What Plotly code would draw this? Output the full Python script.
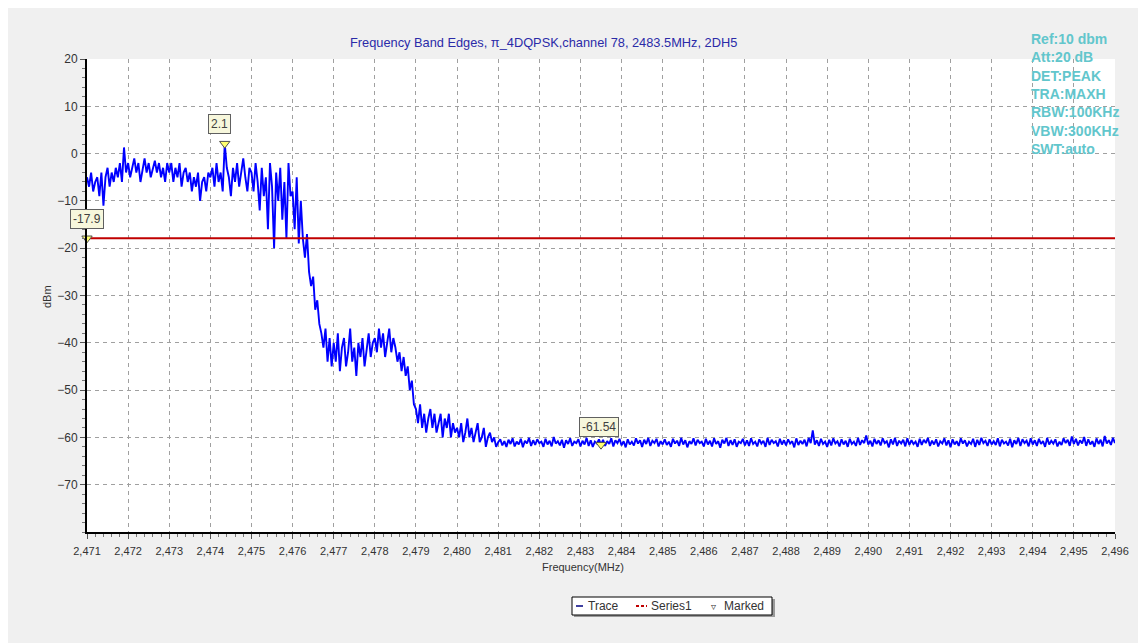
import numpy as np
import plotly.graph_objects as go

# ---------------- data ----------------
# sweep 2471.00 .. 2496.00 MHz, 0.05 MHz step (one row per MHz)
sweep_start, sweep_step = 2471.0, 0.05
start_vals = [-5]
rows = [
    # 2471.05 .. 2472.00
    [-7, -4, -8, -6, -5, -9, -4, -11, -5, -3, -7, -4, -6, -3, -5, -2, -6, 1.3, -4, -2],
    # 2472
    [-5, -3, -1, -4, -2, -6, -3, -1, -4, -2, -5, -3, -1.5, -4, -2, -5, -3, -6, -2, -4],
    # 2473
    [-2, -6, -3, -5, -2, -7, -4, -3, -6, -4, -8, -5, -7, -4, -10, -6, -5, -8, -4, -5],
    # 2474
    [-3, -7, -2, -6, -4, -8, 2.1, -3, -5, -9, -3, -6, -2, -7, -4, -1, -5, -8, -3, -4],
    # 2475
    [-8, -2, -6, -12, -3, -9, -5, -16, -2, -7, -20, -4, -10, -3, -14, -6, -18, -2, -9, -8],
    # 2476
    [-16, -5, -19, -10, -18, -22, -17, -25, -28, -26, -33, -31, -36, -38, -41, -37, -44, -39, -45, -40],
    # 2477
    [-44, -38, -46, -41, -39, -45, -42, -37, -44, -41, -47, -40, -43, -39, -45, -41, -38, -43, -40, -39],
    # 2478
    [-42, -37, -41, -38, -43, -40, -37, -42, -39, -41, -44, -42, -46, -43, -47, -45, -50, -48, -53, -54],
    # 2479
    [-57, -53, -58, -55, -59, -56, -54, -58, -55, -59, -57, -55, -60, -56, -58, -55, -60, -57, -59, -58],
    # 2480
    [-60, -57, -61, -59, -56, -60, -58, -61, -59, -57, -61, -60, -58, -62, -60, -59, -61, -60, -62, -61],
    # 2481
    [-60.4, -61.7, -60.8, -62.0, -60.5, -61.4, -60.2, -61.9, -60.9, -61.5, -60.3, -62.1, -60.7, -61.3, -60.1, -61.8, -60.6, -61.6, -60.4, -61.2],
    # 2482
    [-60.9, -62.0, -60.3, -61.5, -60.7, -61.9, -59.9, -61.3, -60.8, -61.7, -60.5, -62.2, -60.6, -61.4, -60.2, -61.8, -60.9, -61.2, -60.4, -61.9],
    # 2483
    [-60.7, -61.5, -60.1, -61.8, -60.6, -62.0, -60.9, -61.3, -60.4, -61.54, -60.5, -61.8, -60.8, -61.4, -60.2, -61.9, -60.6, -61.2, -60.3, -61.7],
    # 2484
    [-60.8, -62.1, -60.4, -61.5, -60.9, -61.7, -60.2, -61.3, -60.6, -62.0, -60.5, -61.4, -60.1, -61.8, -60.7, -61.2, -60.3, -61.9, -60.8, -61.5],
    # 2485
    [-60.4, -61.6, -60.9, -62.0, -60.3, -61.3, -60.7, -61.8, -60.1, -61.5, -60.6, -62.1, -60.8, -61.4, -60.2, -61.7, -60.5, -61.2, -60.9, -61.9],
    # 2486
    [-60.3, -61.5, -60.7, -61.9, -60.2, -61.4, -60.8, -62.2, -60.5, -61.3, -60.1, -61.8, -60.6, -61.6, -60.4, -62.0, -60.9, -61.2, -60.3, -61.7],
    # 2487
    [-60.6, -61.8, -60.2, -61.4, -60.9, -61.9, -60.4, -61.3, -60.7, -62.0, -60.1, -61.6, -60.5, -61.2, -60.8, -61.9, -60.3, -61.5, -60.6, -61.7],
    # 2488
    [-60.4, -61.3, -60.8, -62.1, -60.2, -61.6, -60.7, -61.4, -60.5, -61.9, -60.1, -61.2, -58.5, -61.5, -60.6, -61.8, -60.3, -61.4, -60.9, -62.0],
    # 2489
    [-60.5, -61.7, -60.2, -61.3, -60.8, -61.9, -60.4, -61.5, -60.7, -62.0, -60.3, -61.4, -60.9, -61.8, -60.1, -61.6, -60.6, -61.2, -59.6, -61.5],
    # 2490
    [-60.7, -61.9, -60.3, -61.4, -60.6, -61.7, -60.2, -61.2, -60.8, -62.1, -60.4, -61.5, -60.1, -61.8, -60.7, -61.3, -60.5, -61.9, -60.2, -61.6],
    # 2491
    [-60.6, -61.4, -60.9, -62.0, -60.3, -61.6, -60.5, -61.2, -60.1, -61.8, -60.7, -61.5, -60.4, -61.9, -60.8, -61.3, -60.2, -61.7, -60.6, -62.1],
    # 2492
    [-60.4, -61.5, -60.8, -61.8, -60.2, -61.3, -60.6, -61.9, -60.9, -61.4, -60.3, -62.0, -60.5, -61.6, -60.1, -61.2, -60.7, -61.8, -60.4, -61.5],
    # 2493
    [-60.8, -61.6, -60.2, -61.9, -60.5, -61.3, -60.9, -61.7, -60.3, -62.1, -60.6, -61.4, -60.1, -61.8, -60.4, -61.2, -60.7, -61.9, -60.2, -61.5],
    # 2494
    [-60.6, -61.8, -60.3, -61.4, -60.8, -62.0, -60.1, -61.5, -60.7, -61.3, -60.4, -61.9, -60.9, -61.6, -60.2, -61.2, -60.5, -61.8, -59.8, -61.4],
    # 2495
    [-60.3, -61.7, -60.6, -61.3, -59.9, -61.8, -60.4, -61.5, -60.8, -62.0, -60.2, -61.4, -60.5, -61.9, -59.7, -61.3, -60.6, -61.6, -60.1, -61.2],
]
limit_value = -17.9
marker_freqs = [2471.0, 2474.35, 2483.5]
marker_vals = [-17.9, 2.1, -61.54]
marker_labels = ["-17.9", "2.1", "-61.54"]
x_range = [2471, 2496]
y_range = [-80, 20]
y_ticks = [20, 10, 0, -10, -20, -30, -40, -50, -60, -70]
info_lines = ["Ref:10 dbm", "Att:20 dB", "DET:PEAK", "TRA:MAXH",
              "RBW:100KHz", "VBW:300KHz", "SWT:auto"]
title_text = "Frequency Band Edges, \u03c0_4DQPSK,channel 78, 2483.5MHz, 2DH5"
legend_names = ["Trace", "Series1", "Marked"]

levels = start_vals + [v for row in rows for v in row]
freqs = list(np.round(sweep_start + sweep_step * np.arange(len(levels)), 3))

# ---------------- layout geometry (reference pixel coords) ----------------
W, H = 1146, 643
OFF = 8  # page body margin
L, R, T, B = 87, 1115, 59, 532
pw, ph = R - L, B - T


def px(x):
    return (x - L) / pw


def py(y):
    return (B - y) / ph


FONT = "Liberation Sans, Arial, sans-serif"

fig = go.Figure()
fig.add_trace(go.Scatter(x=freqs, y=levels, mode="lines", name=legend_names[0],
                         showlegend=False, line=dict(color="#0000FF", width=1.9)))
fig.add_trace(go.Scatter(x=x_range, y=[limit_value, limit_value], mode="lines",
                         name=legend_names[1], showlegend=False,
                         line=dict(color="#C00000", width=2)))
fig.add_trace(go.Scatter(x=marker_freqs, y=marker_vals, mode="markers", name=legend_names[2],
                         showlegend=False, cliponaxis=False,
                         marker=dict(symbol="triangle-down", size=9, color="#FFFF70",
                                     line=dict(color="#505050", width=1))))

annotations = []
shifts = [(0, 19), (-5, 20), (-2, 18)]
for f, v, t, (dx, dy) in zip(marker_freqs, marker_vals, marker_labels, shifts):
    annotations.append(dict(x=f, y=v, xref="x", yref="y", text=t, showarrow=False,
                            xshift=dx, yshift=dy, bgcolor="#F7F7DC", bordercolor="#606060",
                            borderwidth=1, borderpad=2,
                            font=dict(family=FONT, size=12, color="#404040")))
annotations.append(dict(x=px(543), y=py(42), xref="paper", yref="paper", text=title_text,
                        showarrow=False, xanchor="center", yanchor="middle",
                        font=dict(family=FONT, size=12.8, color="#2B2BA8")))
for i, line in enumerate(info_lines):
    annotations.append(dict(x=px(1029), y=py(39 + 18.3 * i), xref="paper", yref="paper",
                            text="<b>" + line + "</b>", showarrow=False,
                            xanchor="left", yanchor="middle",
                            font=dict(family=FONT, size=14, color="#62C6CC")))
annotations.append(dict(x=px(583), y=py(567), xref="paper", yref="paper",
                        text="Frequency(MHz)", showarrow=False, xanchor="center",
                        yanchor="middle", font=dict(family=FONT, size=11, color="#333333")))
annotations.append(dict(x=px(47), y=py(297), xref="paper", yref="paper", text="dBm",
                        showarrow=False, textangle=-90, xanchor="center", yanchor="middle",
                        font=dict(family=FONT, size=11, color="#333333")))

# legend box drawn by hand
LEG_Y = 606
for name, xl in zip(legend_names, [586, 649, 722]):
    annotations.append(dict(x=px(xl), y=py(LEG_Y), xref="paper", yref="paper", text=name,
                            showarrow=False, xanchor="left", yanchor="middle",
                            font=dict(family=FONT, size=12, color="#333333")))
annotations.append(dict(x=px(713), y=py(LEG_Y), xref="paper", yref="paper", text="\u25bf",
                        showarrow=False, xanchor="center", yanchor="middle",
                        font=dict(family="DejaVu Sans", size=10, color="#333333")))

shapes = [
    dict(type="rect", xref="paper", yref="paper", x0=px(574), x1=px(775),
         y0=py(617), y1=py(599), fillcolor="#9A9A9A", line=dict(width=0), layer="above"),
    dict(type="rect", xref="paper", yref="paper", x0=px(572), x1=px(772),
         y0=py(615), y1=py(597), fillcolor="white", line=dict(color="black", width=1),
         layer="above"),
    dict(type="line", xref="paper", yref="paper", x0=px(576), x1=px(583),
         y0=py(LEG_Y), y1=py(LEG_Y), line=dict(color="#000080", width=1.5), layer="above"),
    dict(type="line", xref="paper", yref="paper", x0=px(636), x1=px(647),
         y0=py(LEG_Y), y1=py(LEG_Y), line=dict(color="#C00000", width=2, dash="3px,2px"),
         layer="above"),
]

fig.update_layout(
    width=W, height=H,
    margin=dict(l=L - OFF, r=W - (R - OFF), t=T - OFF, b=H - (B - OFF), pad=0),
    paper_bgcolor="#F0F0F0", plot_bgcolor="white",
    font=dict(family=FONT, size=11, color="#333333"),
    annotations=annotations, shapes=shapes, showlegend=False,
    xaxis=dict(range=x_range, dtick=1, tickformat=",d", showline=True, linecolor="black",
               linewidth=2, ticks="outside", ticklen=5, tickcolor="#555555",
               ticklabelstandoff=3,
               showgrid=True, gridcolor="#A0A0A0", griddash="4px,4px", gridwidth=1,
               zeroline=False, tickfont=dict(size=11, color="#333333"),
               minor=dict(ticks="outside", dtick=0.2, ticklen=3, tickcolor="#777777",
                          showgrid=False)),
    yaxis=dict(range=y_range, tickvals=y_ticks, showline=True, linecolor="black",
               linewidth=2, ticks="outside", ticklen=5, tickcolor="#555555",
               showgrid=True, gridcolor="#A0A0A0", griddash="4px,4px", gridwidth=1,
               zeroline=False, tickfont=dict(size=12, color="#333333"),
               minor=dict(ticks="outside", dtick=2, ticklen=3, tickcolor="#777777",
                          showgrid=False)),
)

fig.write_html("out.html")
